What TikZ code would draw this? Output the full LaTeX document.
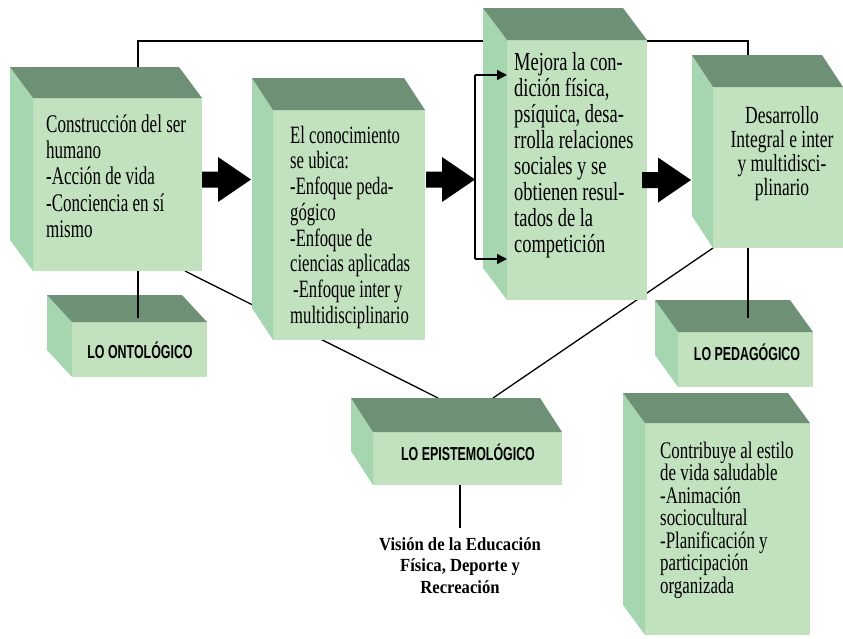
\documentclass[tikz,border=0pt]{standalone}
\usepackage{fontspec}
\setmainfont{Liberation Serif}
\newfontfamily\boxfont[FakeStretch=0.71]{Liberation Serif}
\newfontfamily\boxfontn[FakeStretch=0.67]{Liberation Serif}
\newfontfamily\labfont[FakeStretch=0.66]{Liberation Sans}
\newfontfamily\visfont[FakeStretch=0.9]{Liberation Serif}
\usetikzlibrary{calc,arrows.meta}
\definecolor{frontc}{RGB}{193,225,191}
\definecolor{topc}{RGB}{110,145,118}
\definecolor{sidec}{RGB}{166,214,176}
\pgfdeclarelayer{bg}
\pgfsetlayers{bg,main}
\newcommand\mycube[7]{%
  \node[frontface, minimum width={#4-#2}, minimum height={#5-#3}] (#1) at ({(#2+#4)/2},{(#3+#5)/2}) {};
  \fill[sidec] (#1.north west) -- ++(-#6,-#7) -- ($(#1.south west)+(-#6,-#7)$) -- (#1.south west) -- cycle;
  \fill[topc] (#1.north west) -- ++(-#6,-#7) -- ($(#1.north east)+(-#6,-#7)$) -- (#1.north east) -- cycle;
}
\newcommand\firstline{\rule{0pt}{20pt}}
\tikzset{
  frontface/.style={fill=frontc, inner sep=0pt, outer sep=0pt, draw=none},
  boxtext/.style={inner sep=0pt, align=left, anchor=north west},
  labtext/.style={font=\labfont\bfseries\fontsize{18.8}{20}\selectfont, inner sep=0pt, anchor=base},
  conn/.style={line width=1.3pt, black},
  pics/blockarrow/.style={code={\fill[black] (0,-8) -- (16,-8) -- (16,-22.5) -- (49,0) -- (16,22.5) -- (16,8) -- (0,8) -- cycle;}}
}
\begin{document}
\begin{tikzpicture}[x=1pt,y=-1pt]
\useasboundingbox (0,0) rectangle (843,638);
% label boxes
\mycube{lo1}{72}{322}{207}{377}{25}{27}
\mycube{lo2}{373}{432}{562}{485}{22}{34}
\mycube{lo3}{678}{332}{813}{387}{23}{32}
\node[labtext] (l1) at (140,358) {LO ONTOLÓGICO};
\node[labtext] (l2) at (468,460) {LO EPISTEMOLÓGICO};
\node[labtext] (l3) at (747,360) {LO PEDAGÓGICO};
% main boxes
\mycube{b1}{33}{98}{202}{271}{23}{31}
\mycube{b2}{273}{110}{425}{340}{21}{32}
\mycube{b3}{507}{40}{647}{300}{24}{32}
\mycube{b4}{713}{87}{843}{248}{21}{32}
\mycube{b5}{645}{423}{810}{635}{22}{30}
% coordinates
\coordinate (top1) at (138,41);
\coordinate (top4) at (748,41);
\coordinate (d1) at (185,271);
\coordinate (e1) at (438,398);
\coordinate (e2) at (493,398);
\coordinate (bt) at (475,75);
\coordinate (bb) at (475,259);
% background connectors
\begin{pgfonlayer}{bg}
\draw[conn] (top1 |- b1.north) -- (top1) -- (top4) -- (top4 |- b4.north);
\draw[conn] (d1) -- (e1);
\draw[conn] (e2) -- (b4.south west);
\end{pgfonlayer}
% front connectors
\draw[conn] (top1 |- b1.south) -- ($(top1 |- lo1.north)+(0,-4)$);
\draw[conn] (top4 |- b4.south) -- ($(top4 |- lo3.north)+(0,-14)$);
\coordinate (vtop) at (460,528);
\draw[conn] (lo2.south -| vtop) -- (vtop);
% bracket
\draw[conn] (bt) -- (bb);
\draw[conn,-{Triangle[length=10pt,width=10pt]}] (bt) -- (b3.west |- bt);
\draw[conn,-{Triangle[length=10pt,width=10pt]}] (bb) -- (b3.west |- bb);
% block arrows
\coordinate (a1) at (202,179.5);
\coordinate (a2) at (426,179.5);
\coordinate (a3) at (642,180);
\pic at (a1) {blockarrow};
\pic at (a2) {blockarrow};
\pic at (a3) {blockarrow};
% box texts
\node[boxtext, font={\boxfontn\fontsize{25.4}{26.3}\selectfont}] (t1) at (46,112)
  {\firstline Construcción del ser\\humano\\-Acción de vida\\-Conciencia en sí\\mismo};
\node[boxtext, font={\boxfontn\fontsize{24.9}{25.7}\selectfont}] (t2) at (290,123)
  {\firstline El conocimiento\\se ubica:\\-Enfoque peda-\\gógico\\-Enfoque de\\ciencias aplicadas\\\hspace*{3pt}-Enfoque inter y\\multidisciplinario};
\node[boxtext, font={\boxfont\fontsize{26}{26.1}\selectfont}] (t3) at (514,50)
  {\firstline Mejora la con-\\dición física,\\psíquica, desa-\\rrolla relaciones\\sociales y se\\obtienen resul-\\tados de la\\competición};
\node[inner sep=0pt, align=center, anchor=north, font={\boxfont\fontsize{24.6}{24}\selectfont}] (t4) at (782,103)
  {\firstline Desarrollo\\Integral e inter\\y multidisci-\\plinario};
\node[boxtext, font={\boxfont\fontsize{23.8}{22.5}\selectfont}] (t5) at (660,438)
  {\firstline Contribuye al estilo\\de vida saludable\\-Animación\\sociocultural\\-Planificación y\\participación\\organizada};
\node[inner sep=0pt, align=center, anchor=north, font={\visfont\bfseries\fontsize{18.5}{21.5}\selectfont}] (vis) at (460,530)
  {\rule{0pt}{20pt}Visión de la Educación\\Física, Deporte y\\Recreación};
\end{tikzpicture}
\end{document}
